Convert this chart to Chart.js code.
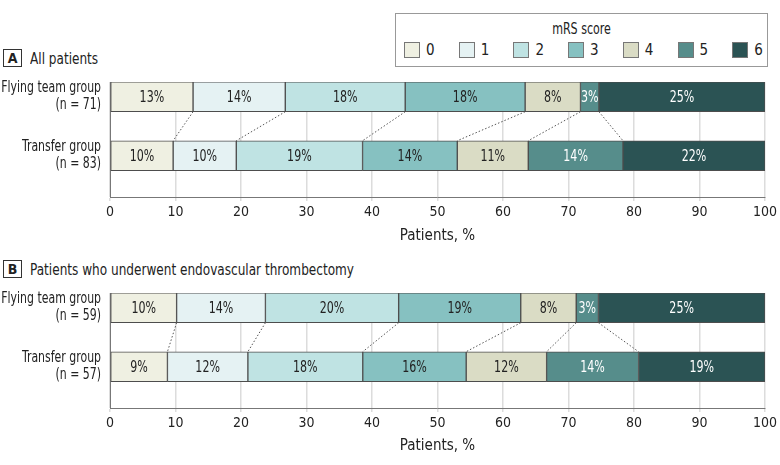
<!DOCTYPE html>
<html>
<head>
<meta charset="utf-8">
<script src="https://cdn.jsdelivr.net/npm/chart.js@4/dist/chart.umd.min.js"></script>
<style>
  body { margin: 0; background: #fff; font-family: 'DejaVu Sans Condensed', 'DejaVu Sans', sans-serif; color: #222; }
  #page { position: relative; width: 780px; height: 465px; overflow: hidden; }
  canvas { position: absolute; left: 0; }
  .hdr { position: absolute; left: 3px; height: 18px; display: flex; align-items: center; font-size: 16px; white-space: nowrap; }
  .hdr b { display: inline-block; width: 17px; height: 16px; line-height: 16px; border: 1px solid #333; text-align: center; font-size: 14px; margin-right: 8px; }
  .hdr span { display: inline-block; transform: scaleX(0.84); transform-origin: left center; }
  #legend { position: absolute; left: 395px; top: 13px; width: 371px; height: 52px; border: 1px solid #999; }
  #legend .ttl { position: absolute; left: 0; right: 0; top: 6px; text-align: center; font-size: 15px; transform: scaleX(0.82); }
  #legend .item { position: absolute; top: 27px; display: flex; align-items: center; font-size: 15px; }
  #legend .sw { width: 14px; height: 14px; border: 1px solid #777; margin-right: 6px; }
</style>
</head>
<body>
<div id="page">
  <div id="legend"><div class="ttl">mRS score</div></div>
  <div class="hdr" style="top:49px"><b>A</b><span>All patients</span></div>
  <canvas id="chartA" width="780" height="185" style="top:70px"></canvas>
  <div class="hdr" style="top:260px"><b>B</b><span>Patients who underwent endovascular thrombectomy</span></div>
  <canvas id="chartB" width="780" height="184" style="top:281px"></canvas>
</div>
<script>
const FONT = "'DejaVu Sans Condensed', 'DejaVu Sans', sans-serif";

const scores = ['0', '1', '2', '3', '4', '5', '6'];
const colors = ['#eff0e2', '#e5f2f3', '#bfe3e3', '#86c1c1', '#dadcc5', '#568d8b', '#2b5354'];

const groupsAll = [['Flying team group', '(n = 71)'], ['Transfer group', '(n = 83)']];
const flyingAll = [12.68, 14.08, 18.31, 18.31, 8.45, 2.82, 25.35];
const transferAll = [9.64, 9.64, 19.28, 14.46, 10.84, 14.46, 21.69];

const groupsEvt = [['Flying team group', '(n = 59)'], ['Transfer group', '(n = 57)']];
const flyingEvt = [10.17, 13.56, 20.34, 18.64, 8.47, 3.39, 25.42];
const transferEvt = [8.77, 12.28, 17.54, 15.79, 12.28, 14.04, 19.30];

// legend built from the score list
const legend = document.getElementById('legend');
scores.forEach((s, i) => {
    let item = document.createElement('div');
    item.className = 'item';
    item.style.left = (8 + i * 54.7) + 'px';
    item.innerHTML = `<span class="sw" style="background:${colors[i]}"></span>${s}`;
    legend.appendChild(item);
});

// the source font is condensed, so squeeze text horizontally
function narrowText(ctx, text, x, y, align, sx) {
    ctx.save();
    ctx.translate(x, y);
    ctx.scale(sx, 1);
    ctx.textAlign = align;
    ctx.fillText(text, 0, 0);
    ctx.restore();
}

// value labels inside each segment
const segLabels = {
    id: 'segLabels',
    afterDatasetsDraw(chart) {
        let ctx = chart.ctx;
        ctx.save();
        ctx.font = `15px ${FONT}`;
        ctx.textBaseline = 'middle';
        chart.data.datasets.forEach((ds, i) => {
            chart.getDatasetMeta(i).data.forEach((bar, j) => {
                ctx.fillStyle = i >= 5 ? '#fff' : '#222';
                narrowText(ctx, Math.round(ds.data[j].x) + '%', (bar.x + bar.base) / 2, bar.y + 1, 'center', 0.82);
            });
        });
        ctx.restore();
    }
};

// dotted lines linking the cumulative boundaries of both bars
const connectors = {
    id: 'connectors',
    beforeDatasetsDraw(chart) {
        let ctx = chart.ctx;
        ctx.save();
        ctx.strokeStyle = '#555';
        ctx.lineWidth = 1;
        ctx.setLineDash([1.5, 2]);
        for (let i = 0; i < chart.data.datasets.length - 1; i++) {
            let [top, bottom] = chart.getDatasetMeta(i).data;
            ctx.beginPath();
            ctx.moveTo(top.x, top.y + top.height / 2);
            ctx.lineTo(bottom.x, bottom.y - bottom.height / 2);
            ctx.stroke();
        }
        ctx.restore();
    }
};

function makePanel(id, groups, flying, transfer, xHeight) {
    // group names, two lines each, right aligned next to the axis
    const groupLabels = {
        id: 'groupLabels',
        afterDraw(chart) {
            let ctx = chart.ctx, y = chart.scales.y;
            ctx.save();
            ctx.font = `15px ${FONT}`;
            ctx.fillStyle = '#222';
            ctx.textBaseline = 'middle';
            groups.forEach((lines, v) => {
                let py = y.getPixelForValue(v);
                lines.forEach((t, k) => narrowText(ctx, t, y.right - 9, py + (k - (lines.length - 1) / 2) * 16.5, 'right', 0.81));
            });
            ctx.restore();
        }
    };
    return new Chart(document.getElementById(id), {
        type: 'bar',
        data: {
            datasets: scores.map((s, i) => ({
                label: s,
                data: [{ x: flying[i], y: 0 }, { x: transfer[i], y: 1 }],
                backgroundColor: colors[i],
                borderColor: '#4d4d4d',
                borderWidth: 1,
                borderSkipped: false,
                barThickness: 30,
                grouped: false,
            }))
        },
        options: {
            indexAxis: 'y',
            responsive: false,
            animation: false,
            layout: { padding: { top: 12, right: 10, left: 0, bottom: 0 } },
            scales: {
                x: {
                    type: 'linear',
                    min: 0,
                    max: 100,
                    stacked: true,
                    ticks: { stepSize: 10, color: '#222', font: { family: FONT, size: 14 }, padding: 3 },
                    grid: { color: '#dcdcdc', lineWidth: 1.5, tickLength: 4 },
                    border: { color: '#777', width: 1 },
                    title: { display: true, text: 'Patients, %', color: '#222', font: { family: FONT, size: 15 }, padding: { top: 6, bottom: 10 } },
                    afterFit: s => { s.height = xHeight; }
                },
                y: {
                    type: 'linear',
                    reverse: true,
                    offset: false,
                    min: -0.25,
                    max: 1.7,
                    ticks: { display: false },
                    grid: { display: false, drawTicks: false, offset: false },
                    border: { display: true, color: '#777', width: 1 },
                    afterFit: s => { s.width = 110; }
                }
            },
            plugins: { legend: { display: false }, tooltip: { enabled: false } }
        },
        plugins: [connectors, segLabels, groupLabels]
    });
}

makePanel('chartA', groupsAll, flyingAll, transferAll, 58);
makePanel('chartB', groupsEvt, flyingEvt, transferEvt, 57);
</script>
</body>
</html>
